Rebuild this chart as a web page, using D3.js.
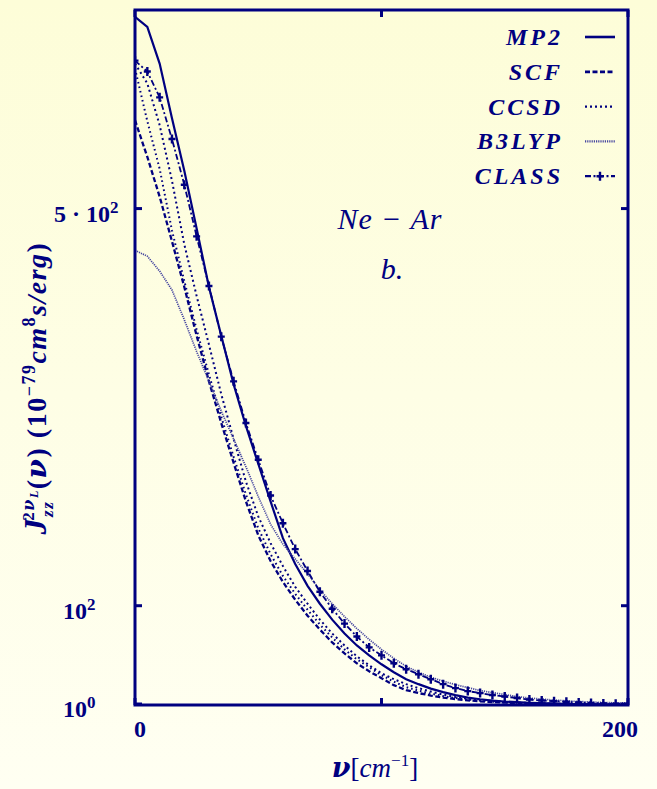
<!DOCTYPE html>
<html>
<head>
<meta charset="utf-8">
<script src="https://cdn.jsdelivr.net/npm/d3@7"></script>
<style>
  body { margin: 0; background: #fefee6; }
  svg { display: block; }
</style>
</head>
<body>
<script>
// frequency grid (cm^-1)
var nu = [0,5,10,15,20,25,30,35,40,45,50,55,60,65,70,75,80,85,90,95,100,
          105,110,115,120,125,130,135,140,145,150,155,160,165,170,175,180,185,190,195,200];

var mp2 = [693,683,646,591,538,480,421,372,323,281,243,205,168,142,120,102,86,72,60,50,41,
           33,26,21,16.5,13,10,7.5,5.8,4.5,3.5,2.8,2.2,1.8,1.4,1.1,0.9,0.7,0.6,0.5,0.4];
var scf = [589,552,512,467,421,372,326,284,244,205,171,145,124,106,90,76,63,52,42,34,27,
           20,15,12,9.5,7.5,6,4.7,3.7,3,2.4,1.9,1.5,1.2,1,0.8,0.6,0.5,0.4,0.35,0.3];
var ccsd = [646,626,584,528,464,412,363,313,268,225,190,163,140,119,102,86,72,60,49,40,32,
            26,21,17,13.5,10.5,8,6.3,5,4,3.2,2.5,2,1.6,1.3,1,0.8,0.65,0.5,0.4,0.3];
var extra = [641,588,540,478,427,378,333,290,250,212,178,152,130,112,96,81,68,56,46,38,30,
             23.5,18,14.5,11.5,9,7,5.5,4.3,3.4,2.7,2.1,1.7,1.4,1.1,0.9,0.7,0.55,0.45,0.35,0.3];
var b3lyp = [458,452,437,418,388,356,326,296,268,240,210,182,162,147,132,116,102,89,77,66,56,
             47,39,33,28,24,20.5,17.5,14.5,12.5,10.5,8.5,7,6,5,4.2,3.5,3,2.5,2.2,2];
var classical = [649,638,612,570,524,472,422,371,326,284,247,211,183,157,135,114,97,82,69,58,50,
                 42,36,31,26,21,17,14,12,10,8.5,7,5.5,4.6,3.8,3.2,2.5,2,1.6,1.3,1];

var xTicks = [0, 100, 200];
var xTickLabels = ["0", "", "200"];
var yTicks = [1, 100, 500];

var W = 657, H = 789;
var pL = 135, pR = 628, pT = 10, pB = 705;
var navy = "#000080";

var x = d3.scaleLinear().domain([0, 200]).range([pL, pR]);
var y = d3.scaleLinear().domain([0, 700]).range([pB, pT]);

var svg = d3.select("body").append("svg")
    .attr("width", W)
    .attr("height", H);

var defs = svg.append("defs");
var grad = defs.append("linearGradient")
    .attr("id", "bg").attr("x1", 0).attr("y1", 0).attr("x2", 0).attr("y2", 1);
grad.append("stop").attr("offset", "0%").attr("stop-color", "#fdfdd8");
grad.append("stop").attr("offset", "100%").attr("stop-color", "#fffff2");
defs.append("clipPath").attr("id", "plotclip")
  .append("rect")
    .attr("x", pL).attr("y", pT)
    .attr("width", pR - pL).attr("height", pB - pT);

svg.append("rect")
    .attr("width", W).attr("height", H)
    .attr("fill", "url(#bg)");

var series = [
  {name: "MP2",   vals: mp2,       dash: null,          width: 2.2, color: navy},
  {name: "SCF",   vals: scf,       dash: "5,2.5",       width: 2.3, color: navy},
  {name: "CCSD",  vals: ccsd,      dash: "2,3",         width: 2,   color: navy},
  {name: "",      vals: extra,     dash: "1.6,3",       width: 2,   color: navy},
  {name: "B3LYP", vals: b3lyp,     dash: "1.2,1",       width: 1.7, color: "#4646a0"},
  {name: "CLASS", vals: classical, dash: "6,2.5,2,2.5", width: 1.8, color: navy}
];

var line = d3.line()
    .x(function(d) { return x(d[0]); })
    .y(function(d) { return y(d[1]); });

var plot = svg.append("g").attr("clip-path", "url(#plotclip)");

plot.selectAll("path.curve")
    .data(series)
    .enter()
    .append("path")
    .attr("class", "curve")
    .attr("d", function(s) { return line(nu.map(function(n, i) { return [n, s.vals[i]]; })); })
    .attr("fill", "none")
    .attr("stroke", function(s) { return s.color; })
    .attr("stroke-width", function(s) { return s.width; })
    .attr("stroke-dasharray", function(s) { return s.dash; });

// + markers on the classical curve
var cross = "M-3.5,0H3.5M0,-4.5V4.5";
plot.selectAll("path.mark")
    .data(nu.map(function(n, i) { return [n, classical[i]]; }))
    .enter()
    .append("path")
    .attr("class", "mark")
    .attr("transform", function(d) { return "translate(" + x(d[0]) + "," + y(d[1]) + ")"; })
    .attr("d", cross)
    .attr("stroke", navy)
    .attr("stroke-width", 2.4);

// frame
svg.append("rect")
    .attr("x", pL).attr("y", pT)
    .attr("width", pR - pL).attr("height", pB - pT)
    .attr("fill", "none")
    .attr("stroke", navy)
    .attr("stroke-width", 3);

// ticks (mirrored)
var tl = 7;
svg.selectAll("line.xt")
    .data(xTicks.concat(xTicks))
    .enter()
    .append("line")
    .attr("x1", function(d) { return x(d); })
    .attr("x2", function(d) { return x(d); })
    .attr("y1", function(d, i) { return i < xTicks.length ? pB : pT; })
    .attr("y2", function(d, i) { return i < xTicks.length ? pB - tl : pT + tl; })
    .attr("stroke", navy).attr("stroke-width", 3);
svg.selectAll("line.yt")
    .data(yTicks.concat(yTicks))
    .enter()
    .append("line")
    .attr("y1", function(d) { return y(d); })
    .attr("y2", function(d) { return y(d); })
    .attr("x1", function(d, i) { return i < yTicks.length ? pL : pR; })
    .attr("x2", function(d, i) { return i < yTicks.length ? pL + tl : pR - tl; })
    .attr("stroke", navy).attr("stroke-width", 3);

var serif = "'Liberation Serif', 'DejaVu Serif', serif";
var nuFont = "'DejaVu Serif', serif";

// x tick labels
svg.selectAll("text.xl")
    .data(xTicks)
    .enter()
    .append("text")
    .attr("x", function(d) { return x(d); })
    .attr("dx", function(d, i) { return i === 0 ? 5 : -8; })
    .attr("y", 737)
    .attr("text-anchor", "middle")
    .attr("font-family", serif)
    .attr("font-weight", "bold")
    .attr("font-size", 24)
    .attr("fill", navy)
    .text(function(d, i) { return xTickLabels[i]; });

// y tick labels: mantissa, exponent
var yLab = [["", "0"], ["", "2"], ["5 \u00b7 ", "2"]];
var yl = svg.selectAll("text.yl")
    .data(yTicks)
    .enter()
    .append("text")
    .attr("x", function(d, i) { return i === 2 ? 54 : 63; })
    .attr("y", function(d) { return y(d) + 13; })
    .attr("font-family", serif)
    .attr("font-weight", "bold")
    .attr("font-size", 24)
    .attr("fill", navy);
yl.append("tspan").text(function(d, i) { return yLab[i][0] + "10"; });
yl.append("tspan").attr("dy", -9).attr("font-size", 17).text(function(d, i) { return yLab[i][1]; });

// legend
var legendRows = series.filter(function(s) { return s.name !== ""; });
var lg = svg.selectAll("g.leg")
    .data(legendRows)
    .enter()
    .append("g")
    .attr("transform", function(d, i) { return "translate(0," + (37 + i * 34.8) + ")"; });
lg.append("text")
    .attr("x", 563).attr("y", 8)
    .attr("text-anchor", "end")
    .attr("font-family", serif)
    .attr("font-style", "italic")
    .attr("font-weight", "bold")
    .attr("font-size", 24)
    .attr("letter-spacing", 3)
    .attr("fill", navy)
    .text(function(d) { return d.name; });
lg.append("line")
    .attr("x1", 585).attr("x2", 615)
    .attr("stroke", function(d) { return d.color; })
    .attr("stroke-width", function(d) { return d.width + 0.4; })
    .attr("stroke-dasharray", function(d) { return d.dash; });
lg.filter(function(d) { return d.name === "CLASS"; })
  .append("path")
    .attr("transform", "translate(600,0)")
    .attr("d", cross)
    .attr("stroke", navy).attr("stroke-width", 2.4);

// annotation
svg.append("text")
    .attr("x", 390).attr("y", 229)
    .attr("text-anchor", "middle")
    .attr("font-family", serif).attr("font-style", "italic")
    .attr("font-size", 30).attr("letter-spacing", 1).attr("fill", navy)
    .text("Ne \u2212 Ar");
svg.append("text")
    .attr("x", 392).attr("y", 279)
    .attr("text-anchor", "middle")
    .attr("font-family", serif).attr("font-style", "italic")
    .attr("font-size", 30).attr("fill", navy)
    .text("b.");

// x axis title
var xt = svg.append("text")
    .attr("x", 375).attr("y", 777)
    .attr("text-anchor", "middle")
    .attr("font-family", serif).attr("font-size", 27).attr("fill", navy);
xt.append("tspan").attr("font-family", nuFont).attr("font-weight", "bold").attr("font-style", "italic").text("\u03bd");
xt.append("tspan").text("[");
xt.append("tspan").attr("font-style", "italic").text("cm");
xt.append("tspan").attr("dy", -11).attr("font-size", 17).text("\u22121");
xt.append("tspan").attr("dy", 11).text("]");

// y axis title
var yt = svg.append("text")
    .attr("transform", "translate(46,388) rotate(-90)")
    .attr("text-anchor", "middle")
    .attr("font-family", serif).attr("font-weight", "bold")
    .attr("font-size", 28).attr("letter-spacing", 1.5).attr("fill", navy);
yt.append("tspan").attr("font-style", "italic").attr("font-size", 32).text("J");
yt.append("tspan").attr("font-style", "italic").attr("font-size", 17).attr("dy", 7).text("zz");
yt.append("tspan").attr("font-size", 17).attr("dx", -20).attr("dy", -19).text("2");
yt.append("tspan").attr("font-family", nuFont).attr("font-style", "italic").attr("font-size", 16).text("\u03bd");
yt.append("tspan").attr("font-style", "italic").attr("font-size", 12).attr("dy", 4).text("L");
yt.append("tspan").attr("dy", 8).text("(");
yt.append("tspan").attr("font-family", nuFont).attr("font-style", "italic").text("\u03bd");
yt.append("tspan").text(") (10");
yt.append("tspan").attr("font-size", 18).attr("dy", -11).text("\u221279");
yt.append("tspan").attr("font-style", "italic").attr("dy", 11).text("cm");
yt.append("tspan").attr("font-size", 18).attr("dy", -11).text("8");
yt.append("tspan").attr("font-style", "italic").attr("dy", 11).text("s/erg");
yt.append("tspan").text(")");
</script>
</body>
</html>
